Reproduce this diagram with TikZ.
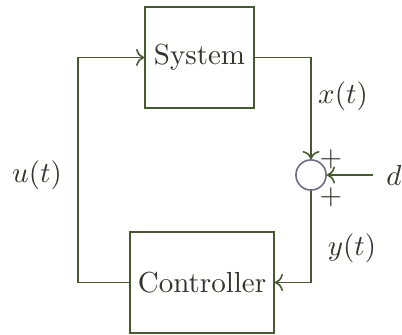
\documentclass[tikz,border=0pt]{standalone}
\usetikzlibrary{arrows.meta}
\definecolor{linec}{RGB}{72,88,48}
\definecolor{textc}{RGB}{50,52,45}
\definecolor{circc}{RGB}{110,110,130}
\tikzset{
  blockbox/.style={draw=linec, line width=0.55pt, text=textc, inner sep=0pt},
  conn/.style={draw=linec, line width=0.55pt, ->},
  lbl/.style={text=textc, inner sep=0pt},
}
\begin{document}
\begin{tikzpicture}[x=0.345pt, y=-0.345pt]
\useasboundingbox (0,0) rectangle (402,335);
\node[blockbox, minimum width=37.6pt, minimum height=34.8pt] (sys) at (199.5,57.5) {System};
\node[blockbox, minimum width=49.7pt, minimum height=34.8pt] (ctrl) at (202,282.5) {Controller};
\node[draw=circc, line width=0.55pt, circle, minimum size=10.4pt, inner sep=0pt] (sum) at (311,175) {};
\node[lbl] (d) at (394,175) {$d$};
\coordinate (ul) at (78,282.5);
\draw[conn] (ctrl.west) -- (ul) |- (sys.west);
\draw[conn] (sys.east) -| (sum.north);
\draw[conn] (sum.south) |- (ctrl.east);
\coordinate (dw) at (373,175);
\draw[conn] (dw) -- (sum.east);
\node[lbl] (xt) at (343,96) {$x(t)$};
\node[lbl] (yt) at (352,248) {$y(t)$};
\node[lbl] (ut) at (37,175) {$u(t)$};
\node[lbl] (p1) at (331,159) {$+$};
\node[lbl] (p2) at (331,197) {$+$};
\end{tikzpicture}
\end{document}
